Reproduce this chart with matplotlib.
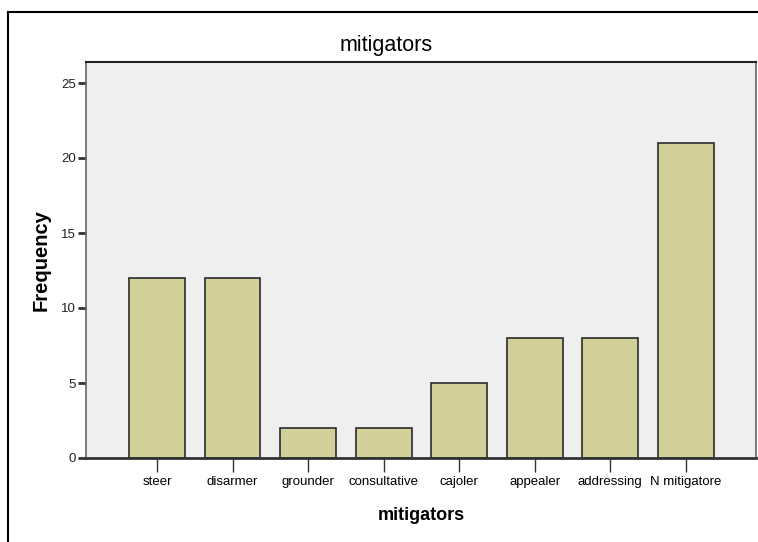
import matplotlib
matplotlib.use("Agg")
import matplotlib.pyplot as plt
from matplotlib.lines import Line2D
import numpy as np

plt.rcParams['font.family'] = ['Liberation Sans', 'DejaVu Sans']

categories = ['steer', 'disarmer', 'grounder', 'consultative', 'cajoler',
              'appealer', 'addressing', 'N mitigatore']
counts = [12, 12, 2, 2, 5, 8, 8, 21]
yticks = [0, 5, 10, 15, 20, 25]

fig = plt.figure(figsize=(7.58, 5.42), dpi=100)
ax = fig.add_axes([86/758, 84/542, 670/758, 396/542])
ax.set_facecolor('#efefef')

x = np.arange(len(categories))
ax.bar(x, counts, width=0.74, color='#d3cf98', edgecolor='#2b2b2b', linewidth=1.2)

ax.set_xlim(-0.94, 7.93)
ax.set_ylim(0, 26.4)
ax.set_xticks(x)
ax.set_xticklabels(categories, fontsize=9.5)
ax.set_yticks(yticks)
ax.set_yticklabels([str(v) for v in yticks], fontsize=9.5, color='#222222')
ax.tick_params(axis='x', length=10, width=1, color='#333333', pad=3)
ax.tick_params(axis='y', length=6, width=2, color='#333333', pad=1)

for s in ['left', 'right']:
    ax.spines[s].set_color('#666666')
    ax.spines[s].set_linewidth(1.2)
ax.spines['top'].set_color('#222222')
ax.spines['top'].set_linewidth(1.5)
ax.spines['bottom'].set_color('#333333')
ax.spines['bottom'].set_linewidth(2)

# title is centred on the outer frame, not the plot area
fig.text(386/758, 1 - 45/542, 'mitigators', fontsize=15.5, ha='center', va='center')
ax.set_xlabel('mitigators', fontsize=13, fontweight='bold', labelpad=14)
ax.set_ylabel('Frequency', fontsize=14.5, fontweight='bold', labelpad=8)

# outer frame (left and top edges visible)
fig.add_artist(Line2D([8/758, 8/758], [0, 1 - 12/542], color='black', lw=1.5))
fig.add_artist(Line2D([8/758, 1], [1 - 12/542, 1 - 12/542], color='black', lw=1.5))

fig.savefig('out.png', dpi=100)
